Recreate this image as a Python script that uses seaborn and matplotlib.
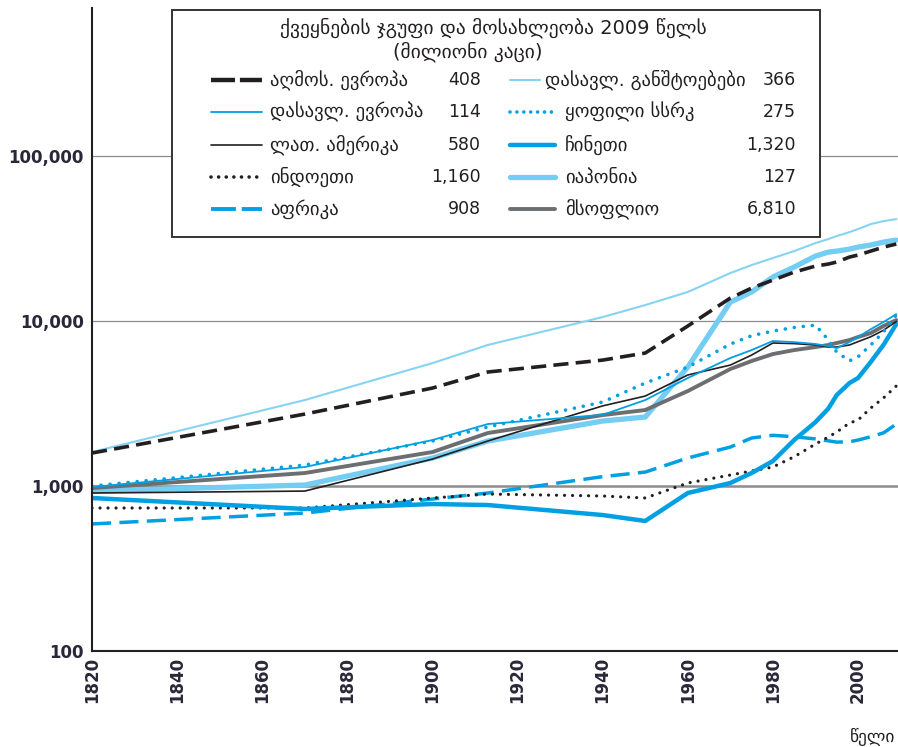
import numpy as np
import pandas as pd
import matplotlib
matplotlib.use("Agg")
import matplotlib.pyplot as plt
import seaborn as sns
from matplotlib.lines import Line2D
from matplotlib.patches import Rectangle
from matplotlib.ticker import FixedLocator, NullFormatter

# ---------------- data (GDP per capita) ----------------
years = [1820, 1870, 1900, 1913, 1940, 1950, 1960, 1970, 1975, 1980,
         1985, 1990, 1993, 1995, 1998, 2000, 2003, 2006, 2009]

east_europe = [1585, 2730, 3925, 4910, 5800, 6400, 9330, 13780, 15850, 17710,
               19800, 21540, 22150, 22790, 24430, 25120, 26550, 28070, 29300]
west_europe = [986, 1304, 1900, 2375, 2700, 3320, 4515, 5970, 6670, 7570,
               7450, 7260, 7050, 6850, 7460, 8000, 8930, 9870, 11020]
latin_america = [907, 932, 1457, 1874, 3060, 3510, 4710, 5410, 6220, 7360,
                 7300, 7160, 6960, 6960, 7160, 7500, 8030, 8800, 9940]
india = [736, 736, 846, 894, 870, 846, 1043, 1166, 1233, 1304,
         1505, 1796, 1980, 2125, 2410, 2510, 2970, 3420, 4040]
africa = [589, 686, 834, 907, 1140, 1215, 1479, 1723, 1955, 2030,
          1990, 1930, 1880, 1845, 1855, 1900, 1990, 2100, 2375]
west_offshoots = [1607, 3320, 5560, 7160, 10570, 12500, 15000, 19540, 21840, 24100,
                  26550, 29700, 31400, 32750, 34600, 36100, 38700, 40350, 41500]
former_ussr = [1000, 1340, 1874, 2280, 3230, 4210, 5260, 7250, 8150, 8700,
               9140, 9450, 7700, 6490, 5740, 6070, 7160, 8600, 10880]
china = [846, 726, 778, 767, 667, 614, 907, 1043, 1199, 1417,
         1900, 2440, 2940, 3560, 4210, 4515, 5650, 7180, 9580]
japan = [932, 1014, 1478, 1874, 2477, 2620, 5260, 13030, 15000, 18490,
         21250, 24770, 26180, 26550, 27300, 28070, 28900, 30100, 30970]
world = [972, 1199, 1607, 2095, 2692, 2888, 3765, 5120, 5725, 6310,
         6670, 6955, 7160, 7360, 7670, 8000, 8460, 9330, 10140]

labels_left = ["აღმოს. ევროპა", "დასავლ. ევროპა", "ლათ. ამერიკა", "ინდოეთი", "აფრიკა"]
pop_left = ["408", "114", "580", "1,160", "908"]
labels_right = ["დასავლ. განშტოებები", "ყოფილი სსრკ", "ჩინეთი", "იაპონია", "მსოფლიო"]
pop_right = ["366", "275", "1,320", "127", "6,810"]

legend_title = "ქვეყნების ჯგუფი და მოსახლეობა 2009 წელს"
legend_subtitle = "(მილიონი კაცი)"
x_label = "წელი"

y_ticks = [100, 1000, 10000, 100000]
x_ticks = list(range(1820, 2001, 20))

# ---------------- styles ----------------
BLUE = "#00a0e3"
LIGHT = "#74cdf3"
THIN_LIGHT = "#86d3f4"
BLACK = "#231f20"
GRAY = "#6d6e71"

styles = {
    "east_europe":    dict(color=BLACK, lw=2.6, ls=(0, (4.2, 2.0)), cap="butt",
                           leg_ls=(0, (5.4, 1.1)), leg_lw=3.2),
    "west_europe":    dict(color=BLUE, lw=1.3, ls="-", cap="butt"),
    "latin_america":  dict(color=BLACK, lw=1.2, ls="-", cap="butt"),
    "india":          dict(color=BLACK, lw=2.3, ls=(0, (0.01, 2.5)), cap="round",
                           leg_ls=(0, (0.01, 2.1)), leg_lw=2.6),
    "africa":         dict(color=BLUE, lw=2.5, ls=(0, (5.5, 2.4)), cap="butt",
                           leg_ls=(0, (6.4, 1.5)), leg_lw=2.8),
    "west_offshoots": dict(color=THIN_LIGHT, lw=1.5, ls="-", cap="butt"),
    "former_ussr":    dict(color=BLUE, lw=2.6, ls=(0, (0.01, 2.5)), cap="round",
                           leg_ls=(0, (0.01, 1.9)), leg_lw=2.6),
    "china":          dict(color=BLUE, lw=3.2, ls="-", cap="butt"),
    "japan":          dict(color=LIGHT, lw=3.8, ls="-", cap="butt"),
    "world":          dict(color=GRAY, lw=2.8, ls="-", cap="butt"),
}

series = {
    "west_offshoots": west_offshoots,
    "africa": africa,
    "india": india,
    "china": china,
    "japan": japan,
    "world": world,
    "latin_america": latin_america,
    "west_europe": west_europe,
    "former_ussr": former_ussr,
    "east_europe": east_europe,
}

sns.set_theme(style="white")
plt.rcParams["font.family"] = ["DejaVu Sans"]

W, H = 898, 747
fig = plt.figure(figsize=(W / 100, H / 100), dpi=100)
ax = fig.add_axes([92 / W, 1 - 651 / H, (W - 92) / W, (651 - 8) / H])

# grid lines
ax.axhline(1000, color="#8c8c8c", lw=1.8, zorder=0.5)
ax.axhline(10000, color="#8c8c8c", lw=0.9, zorder=0.5)
ax.axhline(100000, color="#8c8c8c", lw=0.9, zorder=0.5)

for name, vals in series.items():
    st = styles[name]
    df = pd.DataFrame({"year": years, "value": vals})
    sns.lineplot(data=df, x="year", y="value", ax=ax, color=st["color"],
                 linewidth=st["lw"], linestyle=st["ls"], dash_capstyle=st["cap"],
                 solid_joinstyle="round", zorder=2)

ax.set_yscale("log")
ax.set_ylim(100, 790000)
ax.set_xlim(1820, 2009.4)
ax.set_xlabel("")
ax.set_ylabel("")

ax.yaxis.set_major_locator(FixedLocator(y_ticks))
minor_y = [m * 10 ** e for e in range(2, 6) for m in range(2, 10)]
ax.yaxis.set_minor_locator(FixedLocator(minor_y))
ax.yaxis.set_minor_formatter(NullFormatter())
ax.set_yticklabels([f"{v:,}" for v in y_ticks], fontsize=12, fontweight="bold", color="#2a2838")

ax.xaxis.set_major_locator(FixedLocator(x_ticks))
ax.xaxis.set_minor_locator(FixedLocator(list(range(1830, 2010, 20))))
ax.set_xticklabels([str(v) for v in x_ticks], rotation=90, fontsize=12,
                   fontweight="bold", color="#2a2838")

ax.tick_params(axis="both", which="both", direction="in", length=6.5, width=1.2,
               color=BLACK)
ax.tick_params(axis="y", which="major", pad=6)
ax.tick_params(axis="x", which="major", pad=4)

for s in ["top", "right"]:
    ax.spines[s].set_visible(False)
for s in ["left", "bottom"]:
    ax.spines[s].set_color(BLACK)
    ax.spines[s].set_linewidth(1.5)
ax.grid(False)
ax.set_facecolor("white")


# ---------------- legend (drawn manually in pixel coords) ----------------
def fx(x):
    return x / W


def fy(y):
    return 1 - y / H


box = Rectangle((fx(172), fy(237)), (820 - 172) / W, (237 - 10) / H,
                transform=fig.transFigure, facecolor="white",
                edgecolor="#333333", lw=1.4, zorder=5)
fig.patches.append(box)

fig.text(fx(493), fy(28), legend_title, ha="center", va="center", fontsize=14,
         color=BLACK, zorder=6)
fig.text(fx(468), fy(52), legend_subtitle, ha="center", va="center", fontsize=14,
         color=BLACK, zorder=6)

rows_y = [80, 112, 145, 177, 209]
left_keys = ["east_europe", "west_europe", "latin_america", "india", "africa"]
right_keys = ["west_offshoots", "former_ussr", "china", "japan", "world"]


def legend_sample(key, x0, x1, y):
    st = styles[key]
    fig.add_artist(Line2D([fx(x0), fx(x1)], [fy(y), fy(y)], transform=fig.transFigure,
                          color=st["color"], lw=st.get("leg_lw", st["lw"]),
                          linestyle=st.get("leg_ls", st["ls"]),
                          dash_capstyle=st["cap"], zorder=6))


for i, (key, lab, pop) in enumerate(zip(left_keys, labels_left, pop_left)):
    y = rows_y[i]
    legend_sample(key, 211, 262, y)
    fig.text(fx(270), fy(y), lab, ha="left", va="center", fontsize=13.5, color=BLACK, zorder=6)
    fig.text(fx(481), fy(y), pop, ha="right", va="center", fontsize=12.5, color=BLACK, zorder=6)

for i, (key, lab, pop) in enumerate(zip(right_keys, labels_right, pop_right)):
    y = rows_y[i]
    x1 = 540 if key == "west_offshoots" else 555
    legend_sample(key, 510, x1, y)
    lx = 545 if key == "west_offshoots" else 565
    fig.text(fx(lx), fy(y), lab, ha="left", va="center", fontsize=13.5, color=BLACK, zorder=6)
    fig.text(fx(796), fy(y), pop, ha="right", va="center", fontsize=12.5, color=BLACK, zorder=6)

fig.text(fx(873), fy(737), x_label, ha="center", va="center", fontsize=12.5, color=BLACK)

fig.savefig("out.png", dpi=100, facecolor="white")
